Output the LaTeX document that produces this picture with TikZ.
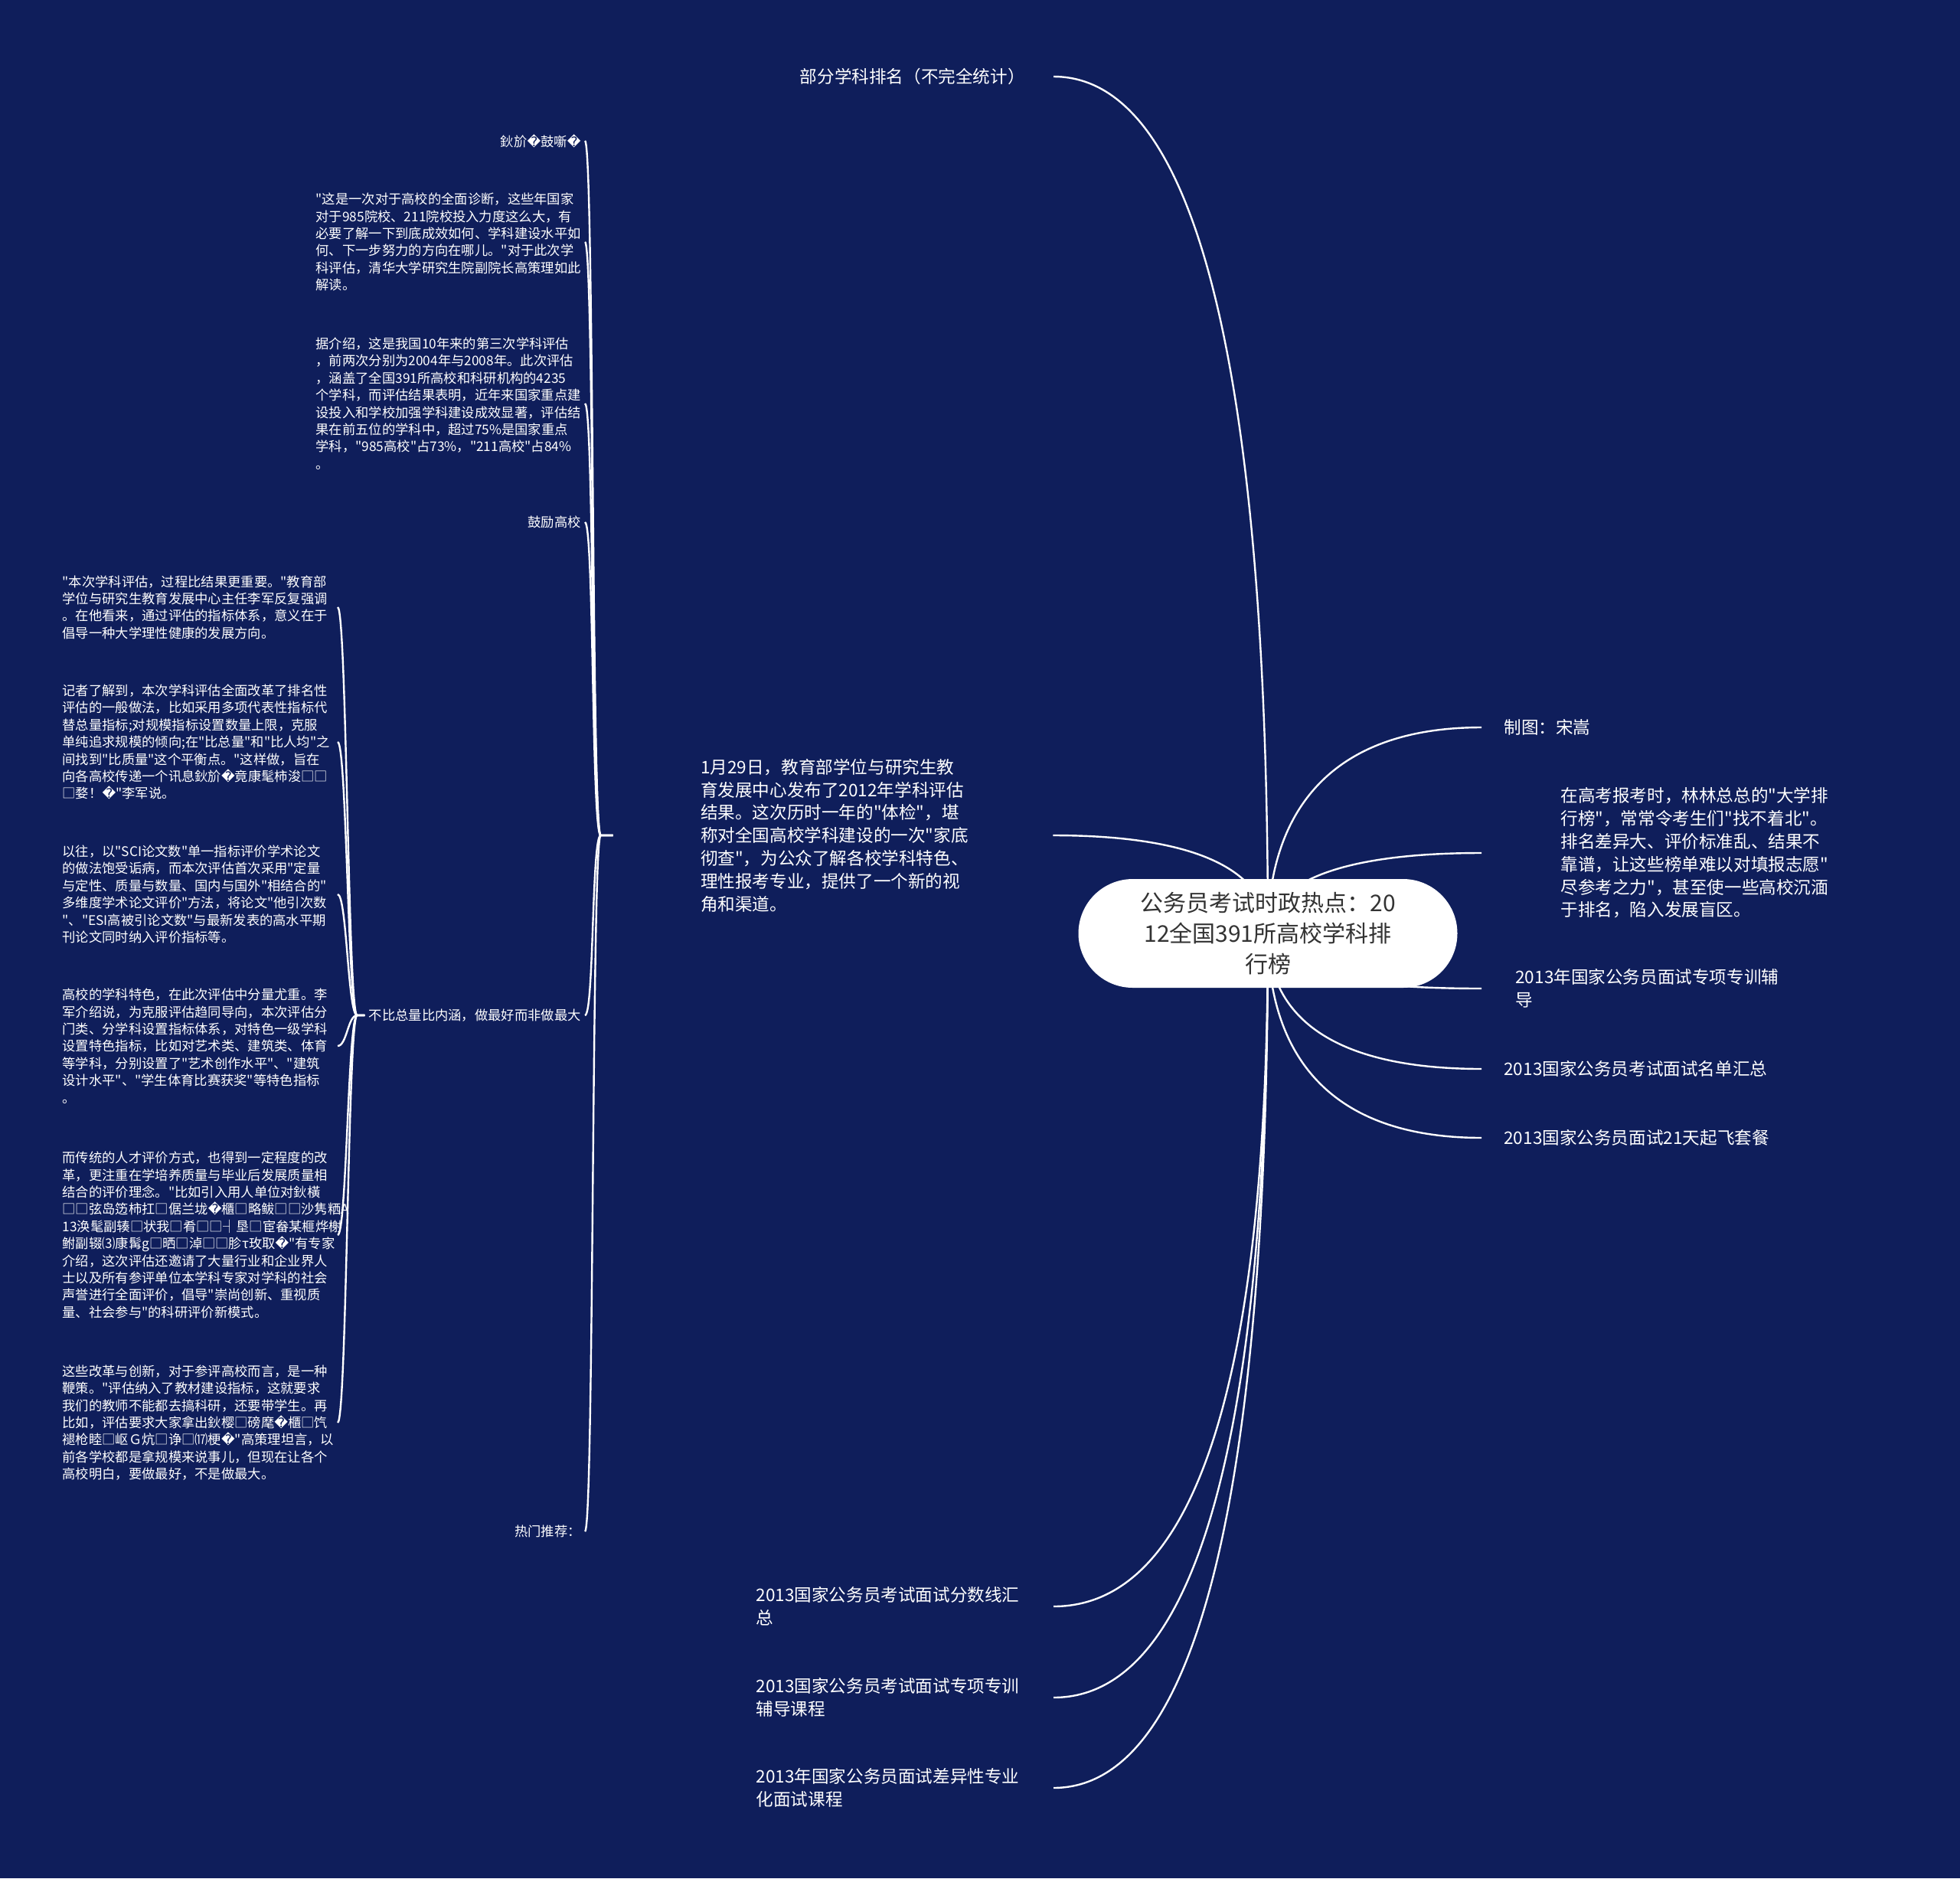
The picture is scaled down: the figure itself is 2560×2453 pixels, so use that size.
\documentclass[tikz,border=0pt]{standalone}
\usepackage{fontspec}
\setmainfont{Noto Sans CJK SC}
\newfontfamily\cjk{Noto Sans CJK SC}
\newfontfamily\symfont{DejaVu Sans}
\newcommand\repl{{\symfont\char"FFFD}}
\definecolor{navy}{HTML}{0F1E5B}
\definecolor{inkgray}{HTML}{333333}
\pgfdeclarelayer{back}
\pgfdeclarelayer{wires}
\pgfsetlayers{back,wires,main}

\begin{document}
\begin{tikzpicture}[x=0.5pt,y=-0.5pt,
 root/.style={fill=white,rounded corners=35.5pt,minimum width=247.5pt,minimum height=71pt,
              align=center,text=inkgray,inner sep=0pt,font=\cjk\fontsize{15}{20}\selectfont},
 topic/.style={text=white,align=left,inner sep=0pt,font=\cjk\fontsize{11.3}{14.9}\selectfont},
 leaf/.style={text=white,align=left,inner xsep=2.5pt,inner ysep=0pt,font=\cjk\fontsize{8.65}{11.2}\selectfont},
 note/.style={leaf,text width=173pt},
 side/.style={leaf,text width=177pt},
 link/.style={draw=white,line width=1.2pt}]
\begin{pgfonlayer}{back}
\fill[navy] (0,0) rectangle (2560,2453);
\end{pgfonlayer}
\useasboundingbox (0,0) rectangle (2560,2453);

\node[root] (root) at (1656,1219) {公务员考试时政热点：20\\12全国391所高校学科排\\行榜};

\node[topic,anchor=east,inner xsep=18.5pt] (rank) at (1376,100) {部分学科排名（不完全统计）};
\node[topic,text width=173pt,inner xsep=57pt] (news) at (1088,1091) {1月29日，教育部学位与研究生教\\
育发展中心发布了2012年学科评估\\
结果。这次历时一年的"体检"，堪\\
称对全国高校学科建设的一次"家底\\
彻查"，为公众了解各校学科特色、\\
理性报考专业，提供了一个新的视\\
角和渠道。};
\node[topic,anchor=east,text width=172pt,inner xsep=22pt] (cutoff) at (1376,2098) {2013国家公务员考试面试分数线汇\\总};
\node[topic,anchor=east,text width=172pt,inner xsep=22pt] (course) at (1376,2217) {2013国家公务员考试面试专项专训\\辅导课程};
\node[topic,anchor=east,text width=172pt,inner xsep=22pt] (special) at (1376,2335) {2013年国家公务员面试差异性专业\\化面试课程};

\node[topic,anchor=west,inner xsep=14.5pt] (credit) at (1935,950) {制图：宋嵩};
\node[topic,anchor=west,inner xsep=51.5pt] (gaokao) at (1935,1114) {在高考报考时，林林总总的"大学排\\
行榜"，常常令考生们"找不着北"。\\
排名差异大、评价标准乱、结果不\\
靠谱，让这些榜单难以对填报志愿"\\
尽参考之力"，甚至使一些高校沉湎\\
于排名，陷入发展盲区。};
\node[topic,anchor=west,inner xsep=22pt] (coach) at (1935,1291) {2013年国家公务员面试专项专训辅\\导};
\node[topic,anchor=west,inner xsep=14.5pt] (roster) at (1935,1396) {2013国家公务员考试面试名单汇总};
\node[topic,anchor=west,inner xsep=14.5pt] (package) at (1935,1486) {2013国家公务员面试21天起飞套餐};

\node[leaf,anchor=east] (garble) at (764,184) {鈥斺\repl{}鼓噺\repl{}};
\node[note,anchor=east] (quote) at (764,316) {"这是一次对于高校的全面诊断，这些年国家\\
对于985院校、211院校投入力度这么大，有\\
必要了解一下到底成效如何、学科建设水平如\\
何、下一步努力的方向在哪儿。"对于此次学\\
科评估，清华大学研究生院副院长高策理如此\\
解读。};
\node[note,anchor=east] (intro) at (764,527) {据介绍，这是我国10年来的第三次学科评估\\
，前两次分别为2004年与2008年。此次评估\\
，涵盖了全国391所高校和科研机构的4235\\
个学科，而评估结果表明，近年来国家重点建\\
设投入和学校加强学科建设成效显著，评估结\\
果在前五位的学科中，超过75\%是国家重点\\
学科，"985高校"占73\%，"211高校"占84\%\\
。};
\node[leaf,anchor=east] (spur) at (764,682) {鼓励高校};
\node[leaf,anchor=east] (best) at (764,1326) {不比总量比内涵，做最好而非做最大};
\node[leaf,anchor=east] (hot) at (764,2000) {热门推荐：};

\node[side,anchor=east] (para1) at (441,793) {"本次学科评估，过程比结果更重要。"教育部\\
学位与研究生教育发展中心主任李军反复强调\\
。在他看来，通过评估的指标体系，意义在于\\
倡导一种大学理性健康的发展方向。};
\node[side,anchor=east] (para2) at (441,969) {记者了解到，本次学科评估全面改革了排名性\\
评估的一般做法，比如采用多项代表性指标代\\
替总量指标;对规模指标设置数量上限，克服\\
单纯追求规模的倾向;在"比总量"和"比人均"之\\
间找到"比质量"这个平衡点。"这样做，旨在\\
向各高校传递一个讯息鈥斺\repl{}竟康髦柿浚□□\\
□婺！\repl{}"李军说。};
\node[side,anchor=east] (para3) at (441,1168) {以往，以"SCI论文数"单一指标评价学术论文\\
的做法饱受诟病，而本次评估首次采用"定量\\
与定性、质量与数量、国内与国外"相结合的"\\
多维度学术论文评价"方法，将论文"他引次数\\
"、"ESI高被引论文数"与最新发表的高水平期\\
刊论文同时纳入评价指标等。};
\node[side,anchor=east] (para4) at (441,1366) {高校的学科特色，在此次评估中分量尤重。李\\
军介绍说，为克服评估趋同导向，本次评估分\\
门类、分学科设置指标体系，对特色一级学科\\
设置特色指标，比如对艺术类、建筑类、体育\\
等学科，分别设置了"艺术创作水平"、"建筑\\
设计水平"、"学生体育比赛获奖"等特色指标\\
。};
\node[side,anchor=east] (para5) at (441,1613) {而传统的人才评价方式，也得到一定程度的改\\
革，更注重在学培养质量与毕业后发展质量相\\
结合的评价理念。"比如引入用人单位对鈥橫\\
□□弦岛笾柿扛□倨兰垅\repl{}櫃□略鲅□□沙隽粞A\\
13涣髦副辏□状我□肴□□┤垦□宦畚某榧烨榭\\
鲋副辍⑶康髯g□晒□淖□□胗τ玫取\repl{}"有专家\\
介绍，这次评估还邀请了大量行业和企业界人\\
士以及所有参评单位本学科专家对学科的社会\\
声誉进行全面评价，倡导"崇尚创新、重视质\\
量、社会参与"的科研评价新模式。};
\node[side,anchor=east] (para6) at (441,1858) {这些改革与创新，对于参评高校而言，是一种\\
鞭策。"评估纳入了教材建设指标，这就要求\\
我们的教师不能都去搞科研，还要带学生。再\\
比如，评估要求大家拿出鈥樱□磅麾\repl{}櫃□饩\\
褪枪睦□岖Ｇ炕□诤□⒄梗\repl{}"高策理坦言，以\\
前各学校都是拿规模来说事儿，但现在让各个\\
高校明白，要做最好，不是做最大。};

\begin{pgfonlayer}{wires}
\draw[link] (root.center) .. controls +(0,-558) and +(226,0) .. (rank.east);
\draw[link] (root.center) .. controls +(0,-62) and +(226,0) .. (news.east);
\draw[link] (root.center) .. controls +(0,441) and +(226,0) .. (cutoff.east);
\draw[link] (root.center) .. controls +(0,500) and +(226,0) .. (course.east);
\draw[link] (root.center) .. controls +(0,560) and +(226,0) .. (special.east);
\draw[link] (root.center) .. controls +(0,-133) and +(-220,0) .. (credit.west);
\draw[link] (root.center) .. controls +(0,-51) and +(-220,0) .. (gaokao.west);
\draw[link] (root.center) .. controls +(0,38) and +(-220,0) .. (coach.west);
\draw[link] (root.center) .. controls +(0,90) and +(-220,0) .. (roster.west);
\draw[link] (root.center) .. controls +(0,135) and +(-220,0) .. (package.west);
\end{pgfonlayer}

\draw[link] (news.west) -- ++(-16,0) .. controls +(-12,0) and +(12,0) .. (garble.east);
\draw[link] (news.west) -- ++(-16,0) .. controls +(-12,0) and +(12,0) .. (quote.east);
\draw[link] (news.west) -- ++(-16,0) .. controls +(-12,0) and +(12,0) .. (intro.east);
\draw[link] (news.west) -- ++(-16,0) .. controls +(-12,0) and +(12,0) .. (spur.east);
\draw[link] (news.west) -- ++(-16,0) .. controls +(-12,0) and +(12,0) .. (best.east);
\draw[link] (news.west) -- ++(-16,0) .. controls +(-12,0) and +(12,0) .. (hot.east);

\draw[link] (best.west) -- ++(-10,0) .. controls +(-12,0) and +(12,0) .. (para1.east);
\draw[link] (best.west) -- ++(-10,0) .. controls +(-12,0) and +(12,0) .. (para2.east);
\draw[link] (best.west) -- ++(-10,0) .. controls +(-12,0) and +(12,0) .. (para3.east);
\draw[link] (best.west) -- ++(-10,0) .. controls +(-12,0) and +(12,0) .. (para4.east);
\draw[link] (best.west) -- ++(-10,0) .. controls +(-12,0) and +(12,0) .. (para5.east);
\draw[link] (best.west) -- ++(-10,0) .. controls +(-12,0) and +(12,0) .. (para6.east);
\end{tikzpicture}
\end{document}
